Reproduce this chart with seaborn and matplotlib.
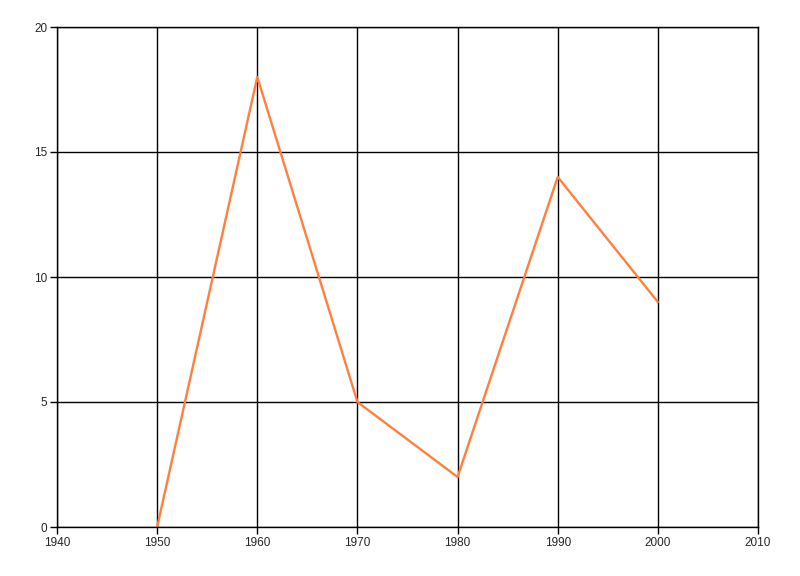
import matplotlib

matplotlib.use("Agg")
import matplotlib.pyplot as plt
import pandas as pd
import seaborn as sns

years = [1950, 1960, 1970, 1980, 1990, 2000]
values = [0, 18, 5, 2, 14, 9]
x_ticks = [1940, 1950, 1960, 1970, 1980, 1990, 2000, 2010]
y_ticks = [0, 5, 10, 15, 20]

df = pd.DataFrame({"year": years, "value": values})

sns.set_style("white")
plt.rcParams["font.family"] = ["Liberation Sans", "DejaVu Sans"]

fig = plt.figure(figsize=(8, 5.76), dpi=100)
ax = fig.add_axes([57 / 800, 1 - 527 / 576, (758 - 57) / 800, (527 - 27) / 576])

sns.lineplot(data=df, x="year", y="value", ax=ax, color="#FF7F3F", linewidth=1.7)

ax.set_xlim(1940, 2010)
ax.set_ylim(0, 20)
ax.set_xticks(x_ticks)
ax.set_yticks(y_ticks)
ax.grid(True, color="black", linewidth=1)
ax.set_axisbelow(True)
for spine in ax.spines.values():
    spine.set_color("black")
    spine.set_linewidth(1)
ax.tick_params(axis="both", length=5, width=1, color="black", labelsize=8.5, pad=2,
               bottom=True, left=True)
ax.set_xlabel("")
ax.set_ylabel("")

fig.savefig("out.png", dpi=100)
plt.close(fig)
